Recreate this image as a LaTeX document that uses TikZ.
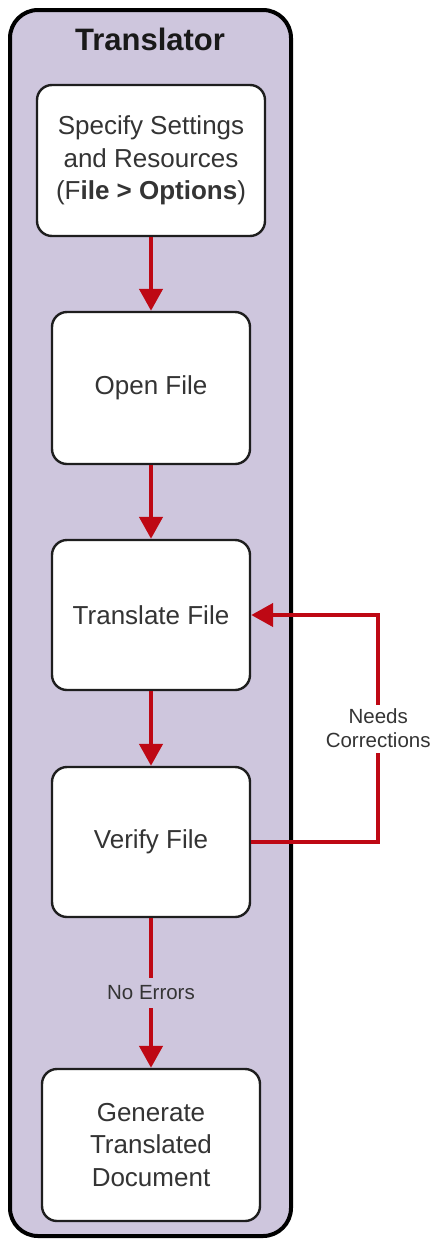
\documentclass[tikz,border=0pt]{standalone}
\usepackage{fontspec}
\setmainfont{Liberation Sans}
\usetikzlibrary{arrows.meta}
\definecolor{lanefill}{RGB}{206,198,221}
\definecolor{flowred}{RGB}{190,8,20}
\definecolor{boxtext}{RGB}{52,52,52}
\definecolor{boxedge}{RGB}{30,30,30}
\begin{document}
\begin{tikzpicture}[x=1pt,y=-1pt,
  lane/.style={draw=black, line width=4pt, fill=lanefill, rounded corners=28pt,
    inner sep=0pt, minimum width=281pt, minimum height=1226pt},
  lanetitle/.style={font=\fontsize{31}{36}\selectfont\bfseries, text=black!90},
  stepbox/.style={draw=boxedge, line width=2.4pt, fill=white, rounded corners=15pt,
    inner sep=0pt, align=center, text=boxtext,
    font=\fontsize{26}{32.5}\selectfont},
  flow/.style={draw=flowred, line width=4.5pt,
    -{Triangle[width=23pt,length=22pt]}},
  lbl/.style={inner sep=1pt, align=center, text=boxtext,
    font=\fontsize{20.5}{24}\selectfont}
]
\useasboundingbox (0,0) rectangle (436,1240);

% swimlane
\node[lane] (lane) at (150.5,623) {};
\node[lanetitle] (title) at (150,39) {Translator};

% process steps
\node[stepbox, minimum width=228pt, minimum height=151pt] (b1) at (151,160.5)
  {Specify Settings\\and Resources\\(F\textbf{ile > Options})};
\node[stepbox, minimum width=198pt, minimum height=152pt] (b2) at (151,388) {Open File};
\node[stepbox, minimum width=198pt, minimum height=150pt] (b3) at (151,615) {Translate File};
\node[stepbox, minimum width=198pt, minimum height=150pt] (b4) at (151,842) {Verify File};
\node[stepbox, minimum width=218pt, minimum height=152pt] (b5) at (151,1145)
  {Generate\\Translated\\Document};

% connectors
\draw[flow] (b1) -- (b2);
\draw[flow] (b2) -- (b3);
\draw[flow] (b3) -- (b4);
\draw[flow] (b4) -- node[lbl, fill=lanefill, minimum height=30pt] (ok) {No Errors} (b5);
\draw[flow] (b4.east) -- ++(127,0) |- node[pos=0.25, lbl, fill=white, minimum height=48pt] (fix) {Needs\\Corrections} (b3.east);
\end{tikzpicture}
\end{document}
